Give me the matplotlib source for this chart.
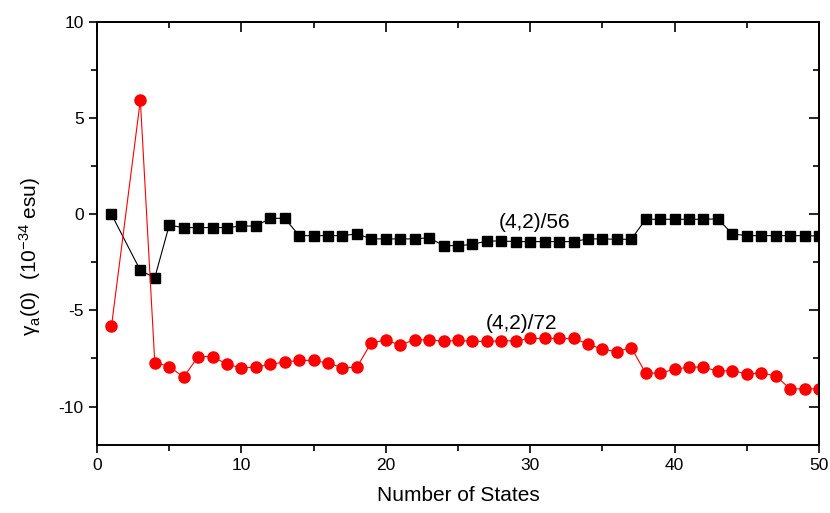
import matplotlib
matplotlib.use("Agg")
import matplotlib.pyplot as plt
from matplotlib.ticker import MultipleLocator

plt.rcParams['font.family'] = ['Liberation Sans', 'DejaVu Sans']
plt.rcParams['axes.unicode_minus'] = False
plt.rcParams['mathtext.default'] = 'regular'

# number of states (no point at n=2)
states = [1] + list(range(3, 51))

gamma_56 = [0.0, -2.92, -3.3, -0.57, -0.69, -0.69, -0.69, -0.69, -0.61, -0.61,
            -0.21, -0.21, -1.11, -1.11, -1.11, -1.11, -1.02, -1.28, -1.28, -1.28,
            -1.28, -1.22, -1.63, -1.63, -1.57, -1.39, -1.39, -1.42, -1.42, -1.42,
            -1.42, -1.42, -1.28, -1.28, -1.30, -1.30, -0.26, -0.26, -0.26, -0.26,
            -0.26, -0.24, -1.02, -1.11, -1.11, -1.11, -1.11, -1.11, -1.13]

gamma_72 = [-5.83, 5.94, -7.71, -7.92, -8.47, -7.40, -7.40, -7.80, -7.99, -7.95,
            -7.80, -7.69, -7.60, -7.60, -7.74, -7.99, -7.95, -6.67, -6.56, -6.79,
            -6.53, -6.53, -6.61, -6.56, -6.61, -6.61, -6.58, -6.58, -6.46, -6.46,
            -6.46, -6.46, -6.74, -7.03, -7.14, -6.94, -8.26, -8.26, -8.06, -7.95,
            -7.95, -8.16, -8.13, -8.30, -8.26, -8.40, -9.08, -9.08, -9.08]

fig = plt.figure(figsize=(8.3, 5.13), dpi=100)
ax = fig.add_axes([0.1169, 0.1326, 0.8698, 0.8244])

ax.plot(states, gamma_56, '-s', color='black', lw=0.8, ms=7, mec='black')
ax.plot(states, gamma_72, '-o', color='red', lw=0.8, ms=8, mec='red')

ax.text(30.3, -0.45, '(4,2)/56', fontsize=15, ha='center', va='center')
ax.text(29.4, -5.7, '(4,2)/72', fontsize=15, ha='center', va='center')

ax.set_xlim(0, 50)
ax.set_ylim(-12, 10)
ax.xaxis.set_major_locator(MultipleLocator(10))
ax.xaxis.set_minor_locator(MultipleLocator(5))
ax.yaxis.set_major_locator(MultipleLocator(5))
ax.yaxis.set_minor_locator(MultipleLocator(2.5))
ax.tick_params(which='major', direction='out', length=6, width=1.2, labelsize=12.5)
ax.tick_params(which='minor', direction='out', length=4, width=1.2)
for s in ax.spines.values():
    s.set_linewidth(1.4)

# mirrored ticks on top and right pointing inward
for side in ['top', 'right']:
    if side == 'top':
        sec = ax.secondary_xaxis('top')
        sec.xaxis.set_major_locator(MultipleLocator(10))
        sec.xaxis.set_minor_locator(MultipleLocator(5))
    else:
        sec = ax.secondary_yaxis('right')
        sec.yaxis.set_major_locator(MultipleLocator(5))
        sec.yaxis.set_minor_locator(MultipleLocator(2.5))
    sec.tick_params(which='major', direction='in', length=7, width=1.2,
                    labeltop=False, labelright=False)
    sec.tick_params(which='minor', direction='in', length=4, width=1.2)
    sec.spines[side].set_linewidth(1.4)

ax.set_xlabel('Number of States', fontsize=15, labelpad=9)
ax.set_ylabel(r'$\gamma_a$(0)  (10$^{-34}$ esu)', fontsize=15)
ax.yaxis.set_label_coords(-0.075, 0.447)

fig.savefig('out.png', dpi=100)
